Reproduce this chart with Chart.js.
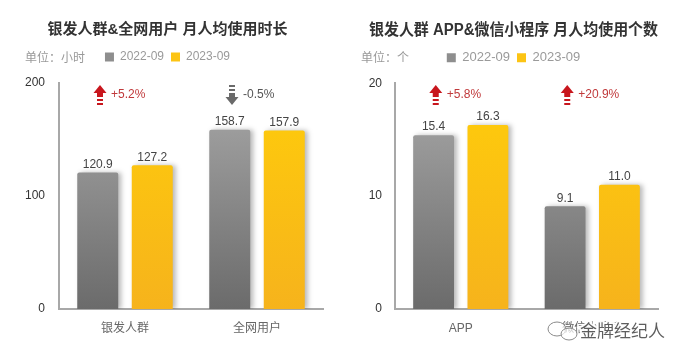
<!DOCTYPE html>
<html><head><meta charset="utf-8">
<script src="https://cdn.jsdelivr.net/npm/chart.js@4/dist/chart.umd.min.js"></script>
<style>
html,body{margin:0;padding:0;background:#fff;width:686px;height:360px;overflow:hidden}
.box{position:absolute;top:0;width:343px;height:360px}
</style></head><body>
<div class="box" style="left:0"><canvas id="c1" width="343" height="360"></canvas></div>
<div class="box" style="left:343px"><canvas id="c2" width="343" height="360"></canvas></div>
<script>
// ---- data ----
const seriesNames = ['2022-09', '2023-09'];
const leftTitle = '银发人群&全网用户 月人均使用时长';
const leftUnit = '单位：小时';
const leftCategories = ['银发人群', '全网用户'];
const leftValues2022 = [120.9, 158.7];
const leftValues2023 = [127.2, 157.9];
const leftChanges = ['+5.2%', '-0.5%'];
const leftTicks = [0, 100, 200];

const rightTitle = '银发人群 APP&微信小程序 月人均使用个数';
const rightUnit = '单位：个';
const rightCategories = ['APP', '微信小程序'];
const rightValues2022 = [15.4, 9.1];
const rightValues2023 = [16.3, 11.0];
const rightChanges = ['+5.8%', '+20.9%'];
const rightTicks = [0, 10, 20];

const watermarkText = '金牌经纪人';

// ---- styles ----
Chart.defaults.font.family = '"Liberation Sans", "Noto Sans CJK SC", sans-serif';
const legendColors = ['#8e8e8e', '#fcc414'];

function grayGrad(ctx) {
  const ch = ctx.chart; const a = ch.chartArea;
  if (!a) return legendColors[0];
  const g = ch.ctx.createLinearGradient(0, a.top, 0, a.bottom);
  g.addColorStop(0, '#a9a9a9'); g.addColorStop(1, '#6b6b6b');
  return g;
}
function yellowGrad(ctx) {
  const ch = ctx.chart; const a = ch.chartArea;
  if (!a) return legendColors[1];
  const g = ch.ctx.createLinearGradient(0, a.top, 0, a.bottom);
  g.addColorStop(0, '#ffcd0a'); g.addColorStop(1, '#f6b31c');
  return g;
}

function drawArrow(ctx, x, y, up, color) {
  const cx = x + 6;
  ctx.fillStyle = color;
  ctx.beginPath();
  if (up) {
    ctx.moveTo(cx, y - 10); ctx.lineTo(cx + 6.5, y - 2); ctx.lineTo(cx - 6.5, y - 2); ctx.closePath(); ctx.fill();
    ctx.fillRect(cx - 3, y - 2, 6, 4);
    ctx.fillRect(cx - 3, y + 4, 6, 2);
    ctx.fillRect(cx - 3, y + 8, 6, 2);
  } else {
    ctx.fillRect(cx - 3, y - 10, 6, 2);
    ctx.fillRect(cx - 3, y - 6, 6, 2);
    ctx.fillRect(cx - 3, y - 2, 6, 4);
    ctx.moveTo(cx, y + 10); ctx.lineTo(cx + 6.5, y + 2); ctx.lineTo(cx - 6.5, y + 2); ctx.closePath(); ctx.fill();
  }
}

const shadowPlugin = {
  id: 'barShadow',
  beforeDatasetsDraw(chart) {
    const c = chart.ctx; c.save();
    c.shadowColor = 'rgba(0,0,0,0.28)'; c.shadowBlur = 5; c.shadowOffsetX = 3; c.shadowOffsetY = 0;
  },
  afterDatasetsDraw(chart) { chart.ctx.restore(); }
};

const decoPlugin = {
  id: 'deco',
  afterDraw(chart, args, opts) {
    const c = chart.ctx;
    c.save();
    // value labels
    c.font = '12px "Liberation Sans", "Noto Sans CJK SC", sans-serif';
    c.fillStyle = '#444'; c.textAlign = 'center'; c.textBaseline = 'middle';
    chart.data.datasets.forEach((ds, di) => {
      chart.getDatasetMeta(di).data.forEach((el, i) => {
        c.fillText(ds.data[i].toFixed(1), el.x, el.y - 8);
      });
    });
    // unit text
    c.textAlign = 'left'; c.fillStyle = '#999';
    c.font = '12px "Noto Sans CJK SC", sans-serif';
    c.fillText(opts.unit, opts.unitX, 57);
    // change annotations
    const xs = chart.scales.x;
    opts.changes.forEach((t, i) => {
      const up = t.trim().charAt(0) !== '-';
      const x0 = xs.getPixelForValue(i) - 31;
      drawArrow(c, x0, 95, up, up ? '#c8161d' : '#6a6a6a');
      c.font = '12px "Liberation Sans", sans-serif';
      c.fillStyle = up ? '#c0393b' : '#555';
      c.textAlign = 'left';
      c.fillText(t, x0 + 17, 95);
    });
    // watermark
    if (opts.watermark) {
      c.lineWidth = 1; c.strokeStyle = '#8a8a8a';
      c.fillStyle = 'rgba(255,255,255,0.7)';
      c.beginPath(); c.ellipse(214, 329, 9, 7, 0, 0, Math.PI * 2); c.fill(); c.stroke();
      c.beginPath(); c.ellipse(226, 334, 8, 6, 0, 0, Math.PI * 2); c.fill(); c.stroke();
      c.font = '17px "Noto Sans CJK SC", sans-serif';
      c.textAlign = 'left'; c.textBaseline = 'middle';
      c.lineWidth = 4; c.strokeStyle = 'rgba(255,255,255,0.95)';
      c.strokeText(opts.watermark, 237, 331);
      c.fillStyle = '#5e5e5e';
      c.fillText(opts.watermark, 237, 331);
    }
    c.restore();
  }
};

function makeChart(id, p) {
  return new Chart(document.getElementById(id), {
    type: 'bar',
    data: {
      labels: p.categories,
      datasets: [
        { label: seriesNames[0], data: p.v1, backgroundColor: grayGrad, borderRadius: 2, borderSkipped: 'bottom' },
        { label: seriesNames[1], data: p.v2, backgroundColor: yellowGrad, borderRadius: 2, borderSkipped: 'bottom' }
      ]
    },
    options: {
      responsive: false,
      animation: false,
      events: [],
      layout: { padding: { left: p.padLeft, right: p.padRight, top: 0, bottom: 0 } },
      datasets: { bar: { categoryPercentage: 0.826, barPercentage: 0.752 } },
      plugins: {
        title: { display: true, text: p.title, color: '#333', font: { size: p.titleSize, weight: 'bold' }, padding: { top: 21, bottom: p.titleBottom } },
        subtitle: { display: true, text: ' ', weight: 500, padding: 0, font: { size: p.spacer, lineHeight: 1 } },
        legend: {
          position: 'top', align: 'center',
          labels: {
            boxWidth: 9, boxHeight: 9, padding: 7, color: '#9a9a9a', font: { size: p.legendSize },
            generateLabels(chart) {
              return chart.data.datasets.map((ds, i) => ({ text: ds.label, fillStyle: legendColors[i], strokeStyle: legendColors[i], fontColor: '#9a9a9a', lineWidth: 0, datasetIndex: i, hidden: false }));
            }
          }
        },
        tooltip: { enabled: false },
        deco: { unit: p.unit, unitX: p.unitX, changes: p.changes, watermark: p.watermark }
      },
      scales: {
        x: {
          grid: { display: false, drawTicks: false },
          border: { display: true, color: '#a8a8a8', width: 2 },
          ticks: { color: '#666', font: { size: 12, family: '"Liberation Sans", "Noto Sans CJK SC", sans-serif' }, padding: 12 },
          afterFit(s) { s.height = 51; }
        },
        y: {
          min: p.ticks[0], max: p.ticks[p.ticks.length - 1],
          grid: { display: false, drawTicks: false },
          border: { display: true, color: '#a8a8a8', width: 2 },
          ticks: { stepSize: p.ticks[1] - p.ticks[0], color: '#333', font: { size: 12 }, padding: p.tickPad },
          afterFit(s) { s.width = p.axisX - p.padLeft; }
        }
      }
    },
    plugins: [shadowPlugin, decoPlugin]
  });
}

makeChart('c1', {
  title: leftTitle, titleSize: 15, titleBottom: 5, spacer: 10, legendSize: 12,
  unit: leftUnit, unitX: 25, categories: leftCategories, v1: leftValues2022, v2: leftValues2023,
  changes: leftChanges, ticks: leftTicks, axisX: 59, padLeft: 12, padRight: 20, tickPad: 14, watermark: null
});
makeChart('c2', {
  title: rightTitle, titleSize: 16, titleBottom: 4, spacer: 9, legendSize: 13,
  unit: rightUnit, unitX: 18, categories: rightCategories, v1: rightValues2022, v2: rightValues2023,
  changes: rightChanges, ticks: rightTicks, axisX: 52, padLeft: 26, padRight: 28, tickPad: 13, watermark: watermarkText
});
</script>
</body></html>
